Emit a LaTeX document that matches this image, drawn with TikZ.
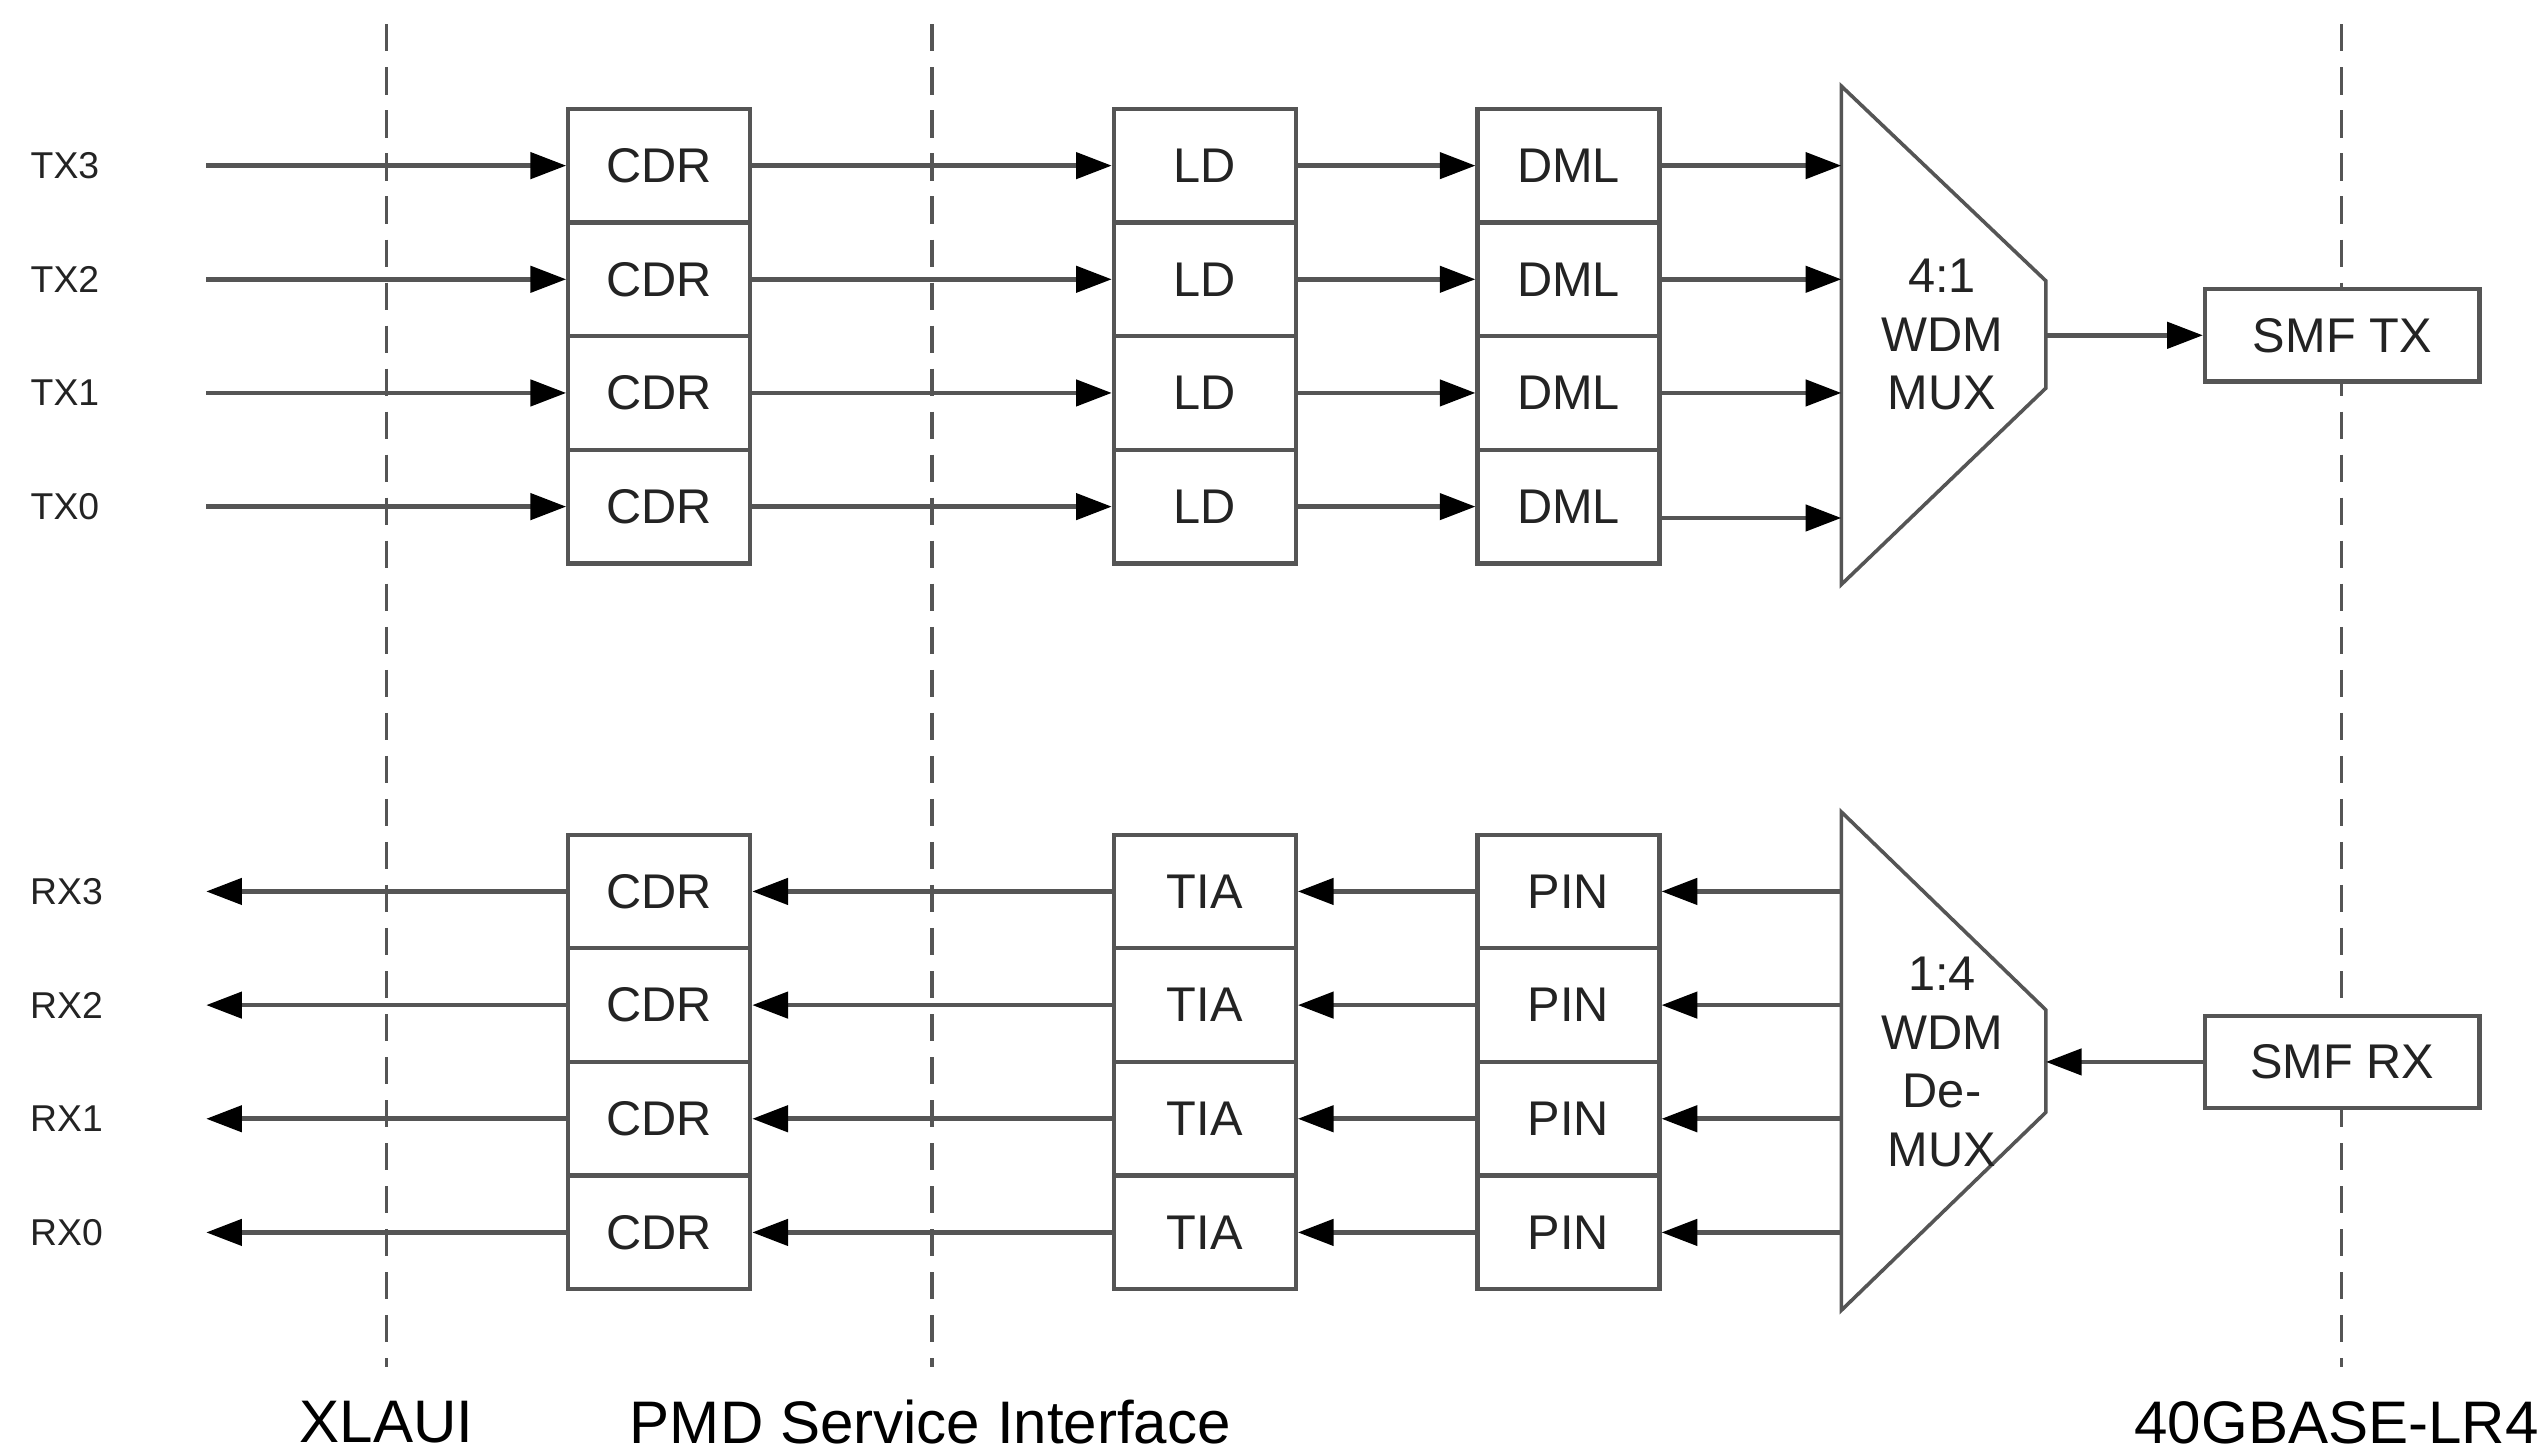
\documentclass[tikz,border=0pt]{standalone}
\usepackage{fontspec}
\setmainfont{Liberation Sans}
\usetikzlibrary{arrows.meta}
\definecolor{ln}{RGB}{85,85,85}
\definecolor{tx}{RGB}{35,35,35}
\begin{document}
\begin{tikzpicture}[x=1pt,y=-1pt,
  blk/.style={draw=ln, line width=2.6pt, fill=white, minimum width=112pt, minimum height=70pt, inner sep=0pt, font=\fontsize{30}{36}\selectfont, text=tx},
  smf/.style={draw=ln, line width=2.6pt, fill=white, minimum width=169pt, minimum height=57pt, inner sep=0pt, font=\fontsize{30}{36}\selectfont, text=tx},
  lbl/.style={font=\fontsize{23}{28}\selectfont, text=tx, inner sep=0pt},
  bot/.style={font=\fontsize{37}{44}\selectfont, text=black, inner sep=0pt},
  mtxt/.style={font=\fontsize{30}{36}\selectfont, text=tx, align=center, inner sep=0pt},
  sig/.style={draw=ln, line width=2.8pt, -{Triangle[length=22pt,width=16pt,color=black]}},
  wdm/.style={draw=ln, line width=2.2pt, fill=white, line join=miter},
  bnd/.style={draw=ln, line width=2.2pt, dash pattern=on 16.7pt off 9.8pt}
]
\useasboundingbox (0,0) rectangle (1568,895);
% boundary dashed lines
\coordinate (d1t) at (238,15);  \coordinate (d1b) at (238,842);
\coordinate (d2t) at (574,15);  \coordinate (d2b) at (574,842);
\coordinate (d3t) at (1442,15); \coordinate (d3b) at (1442,842);
\draw[bnd] (d1t) -- (d1b);
\draw[bnd] (d2t) -- (d2b);
\draw[bnd] (d3t) -- (d3b);

% TX side
\foreach \i/\y in {3/102,2/172,1/242,0/312}{
  \node[lbl] (txl\i) at (40,\y) {TX\i};
  \coordinate (txs\i) at (127,\y);
  \node[blk] (cdrT\i) at (406,\y) {CDR};
  \node[blk] (ld\i) at (742,\y) {LD};
  \node[blk] (dml\i) at (966,\y) {DML};
  \draw[sig] (txs\i) -- (cdrT\i.west);
  \draw[sig] (cdrT\i.east) -- (ld\i.west);
  \draw[sig] (ld\i.east) -- (dml\i.west);
}
% MUX
\draw[wdm] (1134,53) -- (1260,173) -- (1260,239) -- (1134,360) -- cycle;
\node[mtxt] (mux) at (1196,206) {4:1\\WDM\\MUX};
\coordinate (muxout) at (1260,206.5);
\coordinate (muxin3) at (1134,102);
\coordinate (muxin2) at (1134,172);
\coordinate (muxin1) at (1134,242);
\coordinate (muxin0) at (1134,319);
\foreach \i in {3,2,1,0}{
  \draw[sig] (dml\i.east |- muxin\i) -- (muxin\i);
}
\node[smf] (smftx) at (1442.5,206.5) {SMF TX};
\draw[sig] (muxout) -- (smftx.west);

% RX side
\foreach \i/\y in {3/549,2/619,1/689,0/759}{
  \node[lbl] (rxl\i) at (41,\y) {RX\i};
  \coordinate (rxe\i) at (127,\y);
  \node[blk] (cdrR\i) at (406,\y) {CDR};
  \node[blk] (tia\i) at (742,\y) {TIA};
  \node[blk] (pin\i) at (966,\y) {PIN};
  \coordinate (dmxout\i) at (1134,\y);
  \draw[sig] (cdrR\i.west) -- (rxe\i);
  \draw[sig] (tia\i.west) -- (cdrR\i.east);
  \draw[sig] (pin\i.west) -- (tia\i.east);
  \draw[sig] (dmxout\i) -- (pin\i.east);
}
% DeMUX
\draw[wdm] (1134,500) -- (1260,622) -- (1260,685) -- (1134,807) -- cycle;
\node[mtxt] (dmux) at (1196,654) {1:4\\WDM\\De-\\MUX};
\coordinate (dmxin) at (1260,654);
\node[smf] (smfrx) at (1442.5,654) {SMF RX};
\draw[sig] (smfrx.west) -- (dmxin);

% bottom labels
\node[bot] (xlaui) at (238,876) {XLAUI};
\node[bot] (pmd) at (573,876) {PMD Service Interface};
\node[bot] (lr4) at (1439,876) {40GBASE-LR4};
\end{tikzpicture}
\end{document}
